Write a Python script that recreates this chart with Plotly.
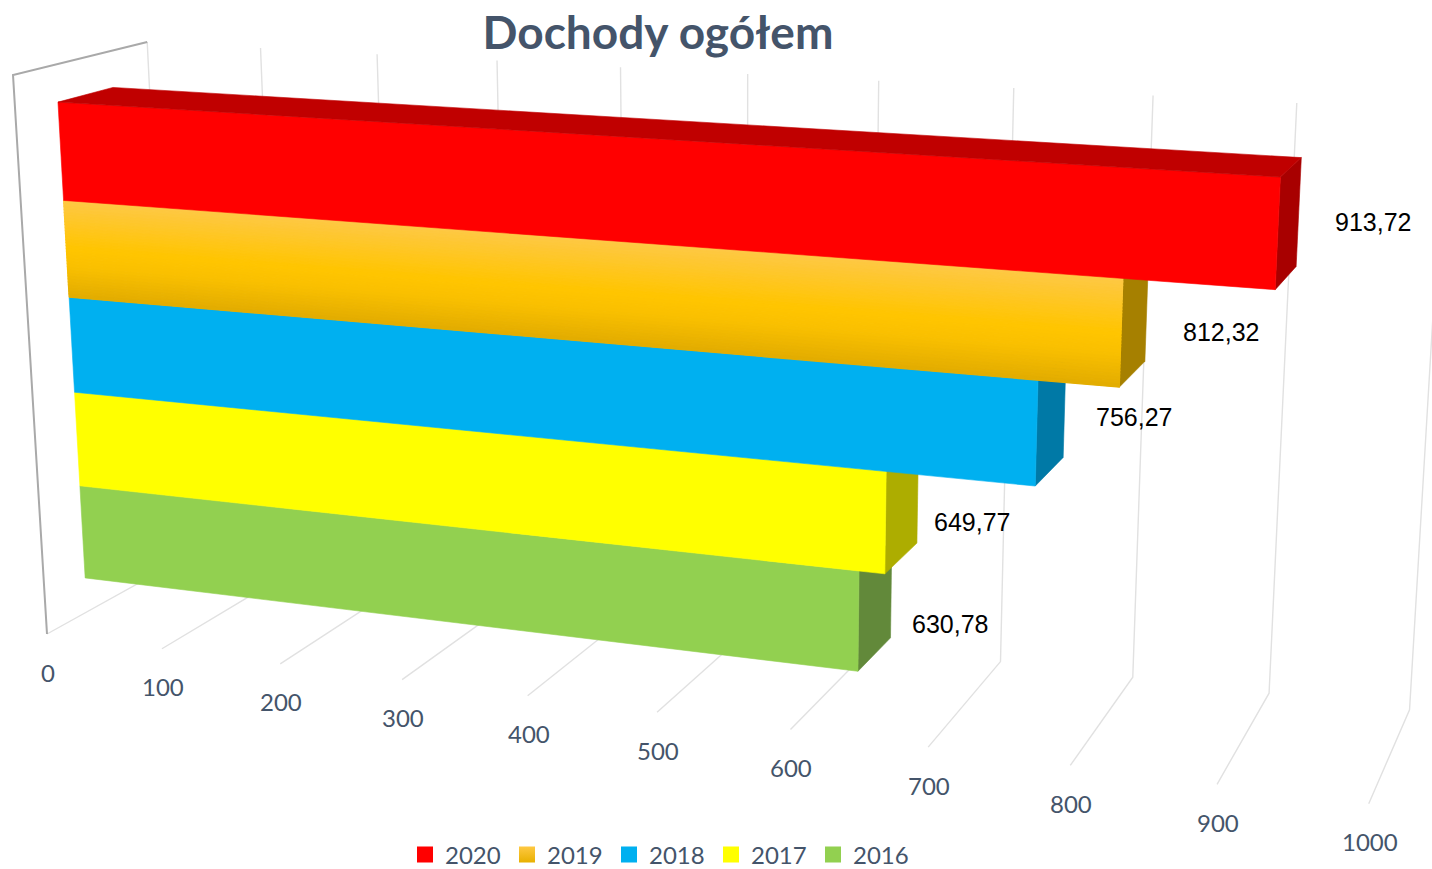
import plotly.graph_objects as go

# ---- data ----
years = ["2020", "2019", "2018", "2017", "2016"]
values = [913.72, 812.32, 756.27, 649.77, 630.78]
value_labels = ["913,72", "812,32", "756,27", "649,77", "630,78"]
axis_ticks = [0, 100, 200, 300, 400, 500, 600, 700, 800, 900, 1000]
front_colors = ["#ff0000", "#ffc000", "#00b0f0", "#ffff00", "#92d050"]
side_colors = ["#a80000", "#a68000", "#0079a6", "#adad00", "#62893a"]
top_color = "#c00000"
gradient_stops = [(0.0, (254, 200, 70)), (0.5, (255, 197, 0)), (0.68, (250, 192, 0)), (1.0, (226, 172, 0))]

# ---- perspective camera of the 3-D box, mapped onto the pixel-sized axes ----
O = (47.0, 634.0)
VX, VY, VZ = (-7887.0, -385.0), (1885.0, -385.0), (738.0, 12000.0)
LX, LY, LZ = -0.1428 / 1000, 0.0736, -0.04688
Y_FRONT, Y_BACK = 0.303, 0.716
Z_BASE, Z_STEP = 0.0646, 0.1739
LABEL_XSHIFT = [85, 87, 83, 70, 75]
LABEL_YSHIFT = [1, -11, 3, -14, -19]


def project(x, y, z):
    a, b, c = x * LX, y * LY, z * LZ
    w = 1 + a + b + c
    return ((O[0] + a * VX[0] + b * VY[0] + c * VZ[0]) / w,
            (O[1] + a * VX[1] + b * VY[1] + c * VZ[1]) / w)


def polygon(points, color, width=0.6):
    pts = [project(*p) for p in points] + [project(*points[0])]
    return go.Scatter(x=[p[0] for p in pts], y=[p[1] for p in pts], mode="lines", fill="toself",
                      fillcolor=color, line=dict(color=color, width=width), hoverinfo="skip", showlegend=False)


def polyline(points, color, width):
    pts = [project(*p) for p in points]
    return go.Scatter(x=[p[0] for p in pts], y=[p[1] for p in pts], mode="lines",
                      line=dict(color=color, width=width), hoverinfo="skip", showlegend=False)


def gradient_at(t):
    for (t0, c0), (t1, c1) in zip(gradient_stops, gradient_stops[1:]):
        if t <= t1:
            f = (t - t0) / (t1 - t0)
            return "rgb(%d,%d,%d)" % tuple(round(a + (b - a) * f) for a, b in zip(c0, c1))
    return "rgb(%d,%d,%d)" % gradient_stops[-1][1]


fig = go.Figure()

# walls and gridlines
for tick in axis_ticks:
    fig.add_trace(polyline([(tick, 0, 0), (tick, 1, 0), (tick, 1, 1)], "#e1e1e1", 1.4))
fig.add_trace(polyline([(0, 1, 1), (0, 0, 1), (0, 0, 0)], "#a9a9a9", 2))

# bars, lowest first so that each one covers the hidden part of the one below
n = len(years)
for i in reversed(range(n)):
    v = values[i]
    z0 = Z_BASE + (n - 1 - i) * Z_STEP
    z1 = z0 + Z_STEP
    fig.add_trace(polygon([(v, Y_FRONT, z0), (v, Y_BACK, z0), (v, Y_BACK, z1), (v, Y_FRONT, z1)], side_colors[i]))
    if years[i] == "2019":
        strips = 32
        for k in range(strips):
            zt = z1 - Z_STEP * k / strips
            zb = z1 - Z_STEP * (k + 1) / strips
            fig.add_trace(polygon([(0, Y_FRONT, zb), (v, Y_FRONT, zb), (v, Y_FRONT, zt), (0, Y_FRONT, zt)],
                                  gradient_at((k + 0.5) / strips), width=1.2))
    else:
        fig.add_trace(polygon([(0, Y_FRONT, z0), (v, Y_FRONT, z0), (v, Y_FRONT, z1), (0, Y_FRONT, z1)], front_colors[i]))
    if i == 0:
        fig.add_trace(polygon([(0, Y_FRONT, z1), (v, Y_FRONT, z1), (v, Y_BACK, z1), (0, Y_BACK, z1)], top_color))

# legend entries
for i, year in enumerate(years):
    marker = dict(symbol="square", size=16, color=front_colors[i], line=dict(width=0))
    if year == "2019":
        marker = dict(symbol="square", size=16, color="#fec842", line=dict(width=0),
                      gradient=dict(type="vertical", color="#e8b000"))
    fig.add_trace(go.Scatter(x=[None], y=[None], mode="markers", name=year, marker=marker, showlegend=True))

annotations = []
for tick in axis_ticks:
    px, py = project(tick, 0, 0)
    annotations.append(dict(x=px, y=py, text=str(tick), showarrow=False, xshift=1, yshift=-38,
                            font=dict(family="Lato", size=24, color="#44546a")))
for i, label in enumerate(value_labels):
    z = Z_BASE + (n - 1 - i + 0.5) * Z_STEP
    px, py = project(values[i], (Y_FRONT + Y_BACK) / 2, z)
    annotations.append(dict(x=px, y=py, text=label, showarrow=False, xshift=LABEL_XSHIFT[i], yshift=LABEL_YSHIFT[i],
                            font=dict(family="Liberation Sans", size=25, color="#000000")))

fig.update_layout(
    width=1432, height=869, margin=dict(l=0, r=0, t=0, b=0, autoexpand=False),
    paper_bgcolor="white", plot_bgcolor="white",
    title=dict(text="<b>Dochody ogółem</b>", x=658 / 1432, xanchor="center", y=1 - 33 / 869, yanchor="middle",
               font=dict(family="Lato", size=46, color="#44546a")),
    xaxis=dict(range=[0, 1432], visible=False, fixedrange=True),
    yaxis=dict(range=[869, 0], visible=False, fixedrange=True),
    legend=dict(orientation="h", x=660 / 1432, xanchor="center", y=1 - 855 / 869, yanchor="middle",
                font=dict(family="Lato", size=24, color="#44546a"), bgcolor="rgba(0,0,0,0)",
                entrywidth=57, entrywidthmode="pixels", itemclick=False, itemdoubleclick=False),
    annotations=annotations,
    hovermode=False,
)
fig.write_html("out.html", config={"displayModeBar": False},
               post_script="document.body.style.margin='0';document.documentElement.style.overflow='hidden';")
